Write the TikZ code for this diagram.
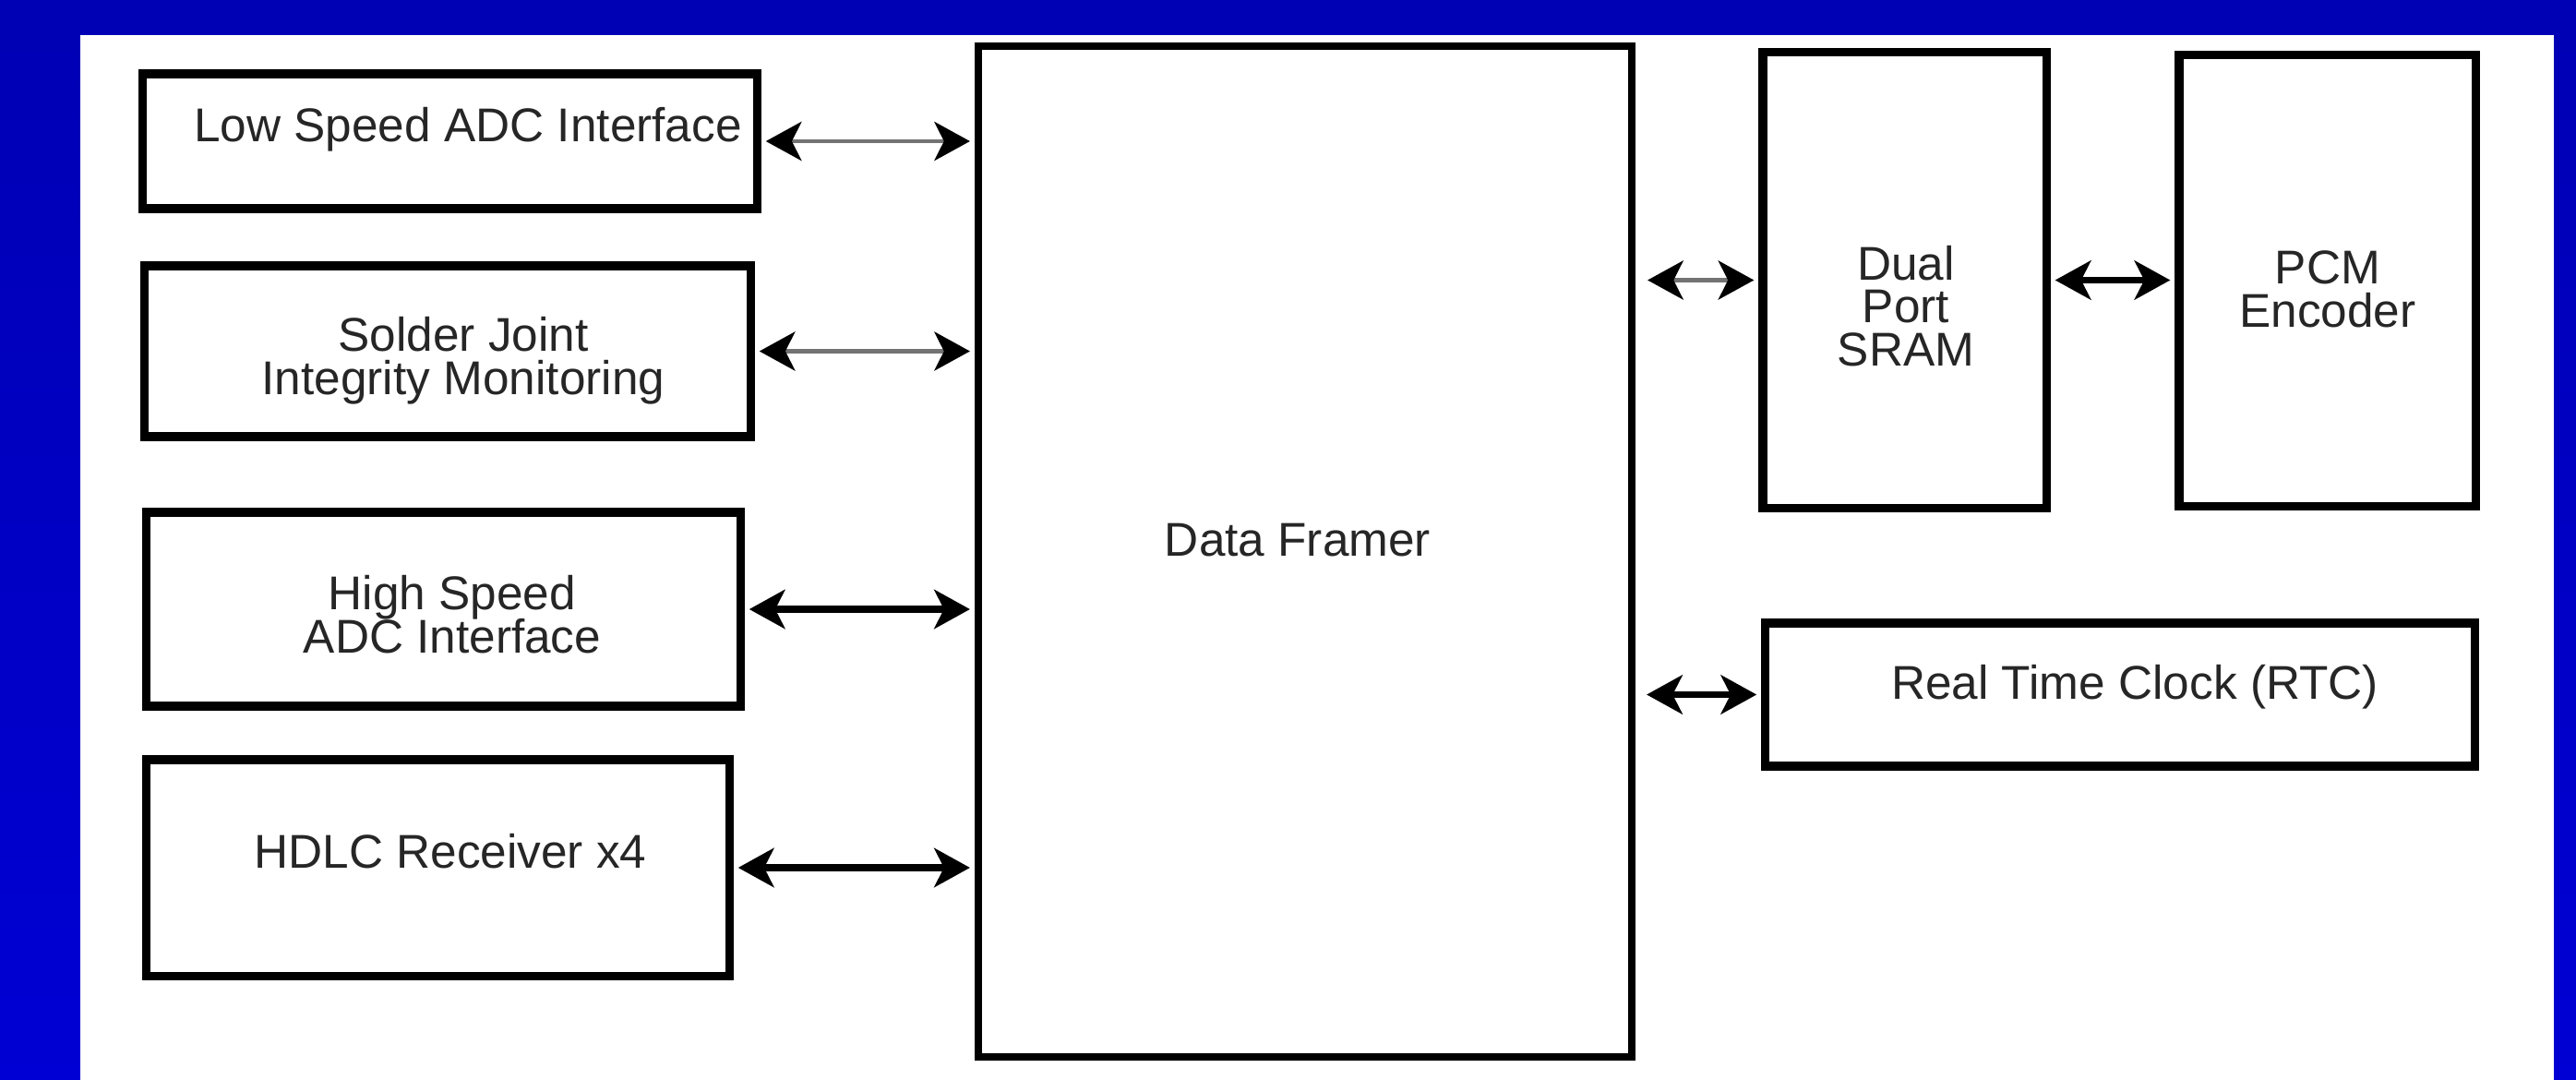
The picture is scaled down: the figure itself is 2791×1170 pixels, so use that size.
\documentclass[tikz,border=0pt]{standalone}
\usepackage{fontspec}
\setmainfont{Liberation Sans}
\usepackage{xcolor}
\usetikzlibrary{arrows.meta, positioning, calc}

\definecolor{slidetop}{RGB}{0,0,180}
\definecolor{slidebot}{RGB}{0,0,212}

\begin{document}
\begin{tikzpicture}[x=0.01cm, y=-0.01cm,
    >={Stealth[length=11pt, width=12pt, inset=3pt, color=black]},
    blk/.style={draw=black, line width=2.6pt, rectangle, inner sep=0pt},
    lbl/.style={font={\fontsize{14.6}{13.2}\selectfont\lineskiplimit=-8pt},
        text=black!85, align=center, anchor=base, inner sep=0pt},
    link/.style={<->, line width=2pt, shorten <=0.5mm, shorten >=0.5mm},
    thinlink/.style={link, line width=1.3pt, draw=black!55}]
\useasboundingbox (0,0) rectangle (2791,1170);

% Slide background and white panel
\shade[top color=slidetop, bottom color=slidebot] (0,0) rectangle (2791,1170);
\fill[white] (87,38) rectangle (2767,1170);

% Left interface blocks
\node[blk, minimum width=6.65cm, minimum height=1.46cm] (lsadc) at (487.5,153) {};
\node[blk, minimum width=6.56cm, minimum height=1.85cm] (sjim) at (485,380.5) {};
\node[blk, minimum width=6.43cm, minimum height=2.10cm] (hsadc) at (480.5,660) {};
\node[blk, minimum width=6.31cm, minimum height=2.34cm] (hdlc) at (474.5,940) {};

% Framer in the middle
\node[blk, line width=2.2pt, minimum width=7.08cm, minimum height=10.95cm] (frm) at (1414,597.5) {};

% Right side blocks
\node[blk, minimum width=3.07cm, minimum height=4.93cm] (sram) at (2063.5,303.5) {};
\node[blk, minimum width=3.21cm, minimum height=4.88cm] (pcm) at (2521.5,304) {};
\node[blk, minimum width=7.68cm, minimum height=1.55cm] (rtc) at (2297,752.5) {};

% Labels (base = last line)
\node[lbl] (lsadc-t) at (507,153) {Low Speed ADC Interface};
\node[lbl] (sjim-t) at (502,427) {Solder Joint\\Integrity Monitoring};
\node[lbl] (hsadc-t) at (490,707) {High Speed\\ADC Interface};
\node[lbl] (hdlc-t) at (488,940) {HDLC Receiver x4};
\node[lbl] (frm-t) at (1406,602) {Data Framer};
\node[lbl] (sram-t) at (2065,396) {Dual\\Port\\SRAM};
\node[lbl] (pcm-t) at (2522,354) {PCM\\Encoder};
\node[lbl] (rtc-t) at (2313,757) {Real Time Clock (RTC)};

% Links to the framer
\foreach \blk in {lsadc,sjim}
    \draw[thinlink] (\blk.east) -- (\blk.east -| frm.west);
\foreach \blk in {hsadc,hdlc}
    \draw[link] (\blk.east) -- (\blk.east -| frm.west);
\draw[thinlink, shorten <=1.3mm] (sram.west -| frm.east) -- (sram.west);
\draw[link] (sram.east) -- (sram.east -| pcm.west);
\draw[link, shorten <=1.2mm] (rtc.west -| frm.east) -- (rtc.west);
\end{tikzpicture}
\end{document}
